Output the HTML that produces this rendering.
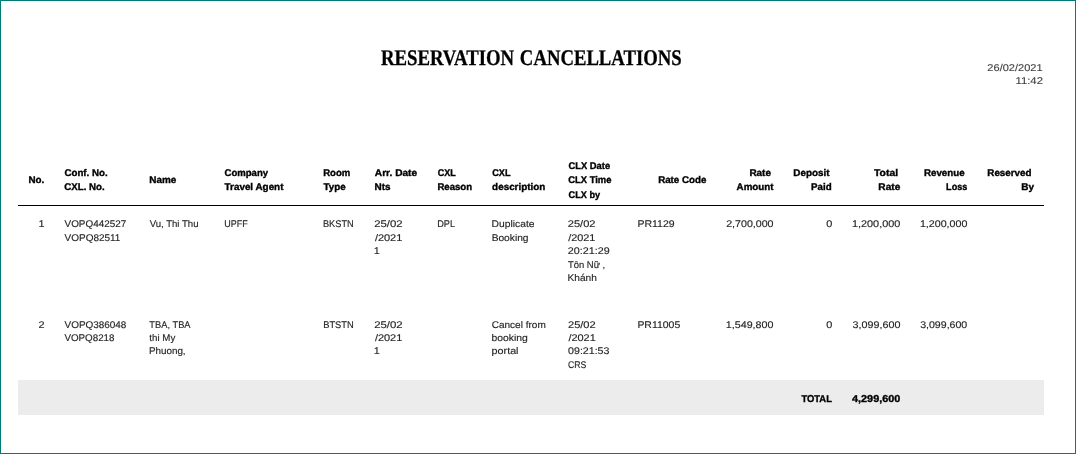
<!DOCTYPE html>
<html><head><meta charset="utf-8"><title>Reservation Cancellations</title>
<style>
html,body{margin:0;padding:0;background:#fff;}
body{width:1076px;height:454px;overflow:hidden;position:relative;text-rendering:geometricPrecision;font-family:"Liberation Sans",Arial,"Noto Sans CJK SC",sans-serif;}
.frame{position:absolute;left:0;top:0;width:1074px;height:452px;border:1px solid #007b78;}
.g{position:absolute;left:0;top:0;width:1076px;height:454px;}
span{position:absolute;white-space:nowrap;transform-origin:0 0;}
.h{font-weight:bold;color:#000;-webkit-text-stroke:0.35px #000;}
.d,.n{color:#262626;-webkit-text-stroke:0.15px #262626;}
.t{font-weight:bold;color:#000;-webkit-text-stroke:0.35px #000;}
.dt{color:#3c3c3c;-webkit-text-stroke:0.1px #3c3c3c;}
.ti{font-family:"Liberation Serif",serif;font-weight:bold;color:#000;-webkit-text-stroke:0.3px #000;}
.rule{position:absolute;left:18px;top:205px;width:1026px;height:1px;background:#000;}
.tot{position:absolute;left:18px;top:380px;width:1026px;height:35px;background:#ececec;}
</style></head><body>
<div class="frame"></div>
<div class="rule"></div>
<div class="tot"></div>
<div class="g report-header">
<span id="s0" class="ti" style="left:380px;top:45.09px;font-size:22.3px;line-height:26.76px;transform:translateX(0.90px) scaleX(0.8422);">RESERVATION</span>
<span id="s1" class="ti" style="left:519px;top:45.09px;font-size:22.3px;line-height:26.76px;transform:translateX(0.87px) scaleX(0.8391);">CANCELLATIONS</span>
<span id="s76" class="dt" style="left:987px;top:62.72px;font-size:9.8px;line-height:11.76px;transform:translateX(0.34px) scaleX(1.1280);">26/02/2021</span>
<span id="s77" class="dt" style="left:1015px;top:75.72px;font-size:9.8px;line-height:11.76px;transform:translateX(0.47px) scaleX(1.1560);">11:42</span>
</div>
<div class="g table-head">
<span id="s2" class="h" style="left:28px;top:174.82px;font-size:9.7px;line-height:11.64px;transform:translateX(0.50px) scaleX(1.0119);">No.</span>
<span id="s3" class="h" style="left:64px;top:167.92px;font-size:9.7px;line-height:11.64px;transform:translateX(0.45px) scaleX(1.0030);">Conf. No.</span>
<span id="s4" class="h" style="left:64px;top:181.82px;font-size:9.7px;line-height:11.64px;transform:translateX(0.30px) scaleX(1.0005);">CXL. No.</span>
<span id="s5" class="h" style="left:149px;top:174.82px;font-size:9.7px;line-height:11.64px;transform:translateX(0.35px) scaleX(1.0226);">Name</span>
<span id="s6" class="h" style="left:224px;top:167.92px;font-size:9.7px;line-height:11.64px;transform:translateX(0.51px) scaleX(0.9865);">Company</span>
<span id="s7" class="h" style="left:224px;top:181.82px;font-size:9.7px;line-height:11.64px;transform:translateX(0.61px) scaleX(1.0177);">Travel Agent</span>
<span id="s8" class="h" style="left:323px;top:167.92px;font-size:9.7px;line-height:11.64px;transform:translateX(0.19px) scaleX(0.9877);">Room</span>
<span id="s9" class="h" style="left:323px;top:181.82px;font-size:9.7px;line-height:11.64px;transform:translateX(0.54px) scaleX(1.0103);">Type</span>
<span id="s10" class="h" style="left:374px;top:167.92px;font-size:9.7px;line-height:11.64px;transform:translateX(0.85px) scaleX(1.0467);">Arr. Date</span>
<span id="s11" class="h" style="left:374px;top:181.82px;font-size:9.7px;line-height:11.64px;transform:translateX(0.61px) scaleX(1.0259);">Nts</span>
<span id="s12" class="h" style="left:437px;top:167.92px;font-size:9.7px;line-height:11.64px;transform:translateX(0.73px) scaleX(0.9277);">CXL</span>
<span id="s13" class="h" style="left:437px;top:181.82px;font-size:9.7px;line-height:11.64px;transform:translateX(0.38px) scaleX(0.9889);">Reason</span>
<span id="s14" class="h" style="left:492px;top:167.92px;font-size:9.7px;line-height:11.64px;transform:translateX(0.16px) scaleX(0.9461);">CXL</span>
<span id="s15" class="h" style="left:492px;top:181.82px;font-size:9.7px;line-height:11.64px;transform:translateX(0.12px) scaleX(1.0189);">description</span>
<span id="s16" class="h" style="left:568px;top:161.42px;font-size:9.7px;line-height:11.64px;transform:translateX(0.56px) scaleX(0.9648);">CLX Date</span>
<span id="s17" class="h" style="left:568px;top:175.42px;font-size:9.7px;line-height:11.64px;transform:translateX(0.19px) scaleX(0.9719);">CLX Time</span>
<span id="s18" class="h" style="left:568px;top:190.22px;font-size:9.7px;line-height:11.64px;transform:translateX(0.58px) scaleX(0.9446);">CLX by</span>
<span id="s19" class="h" style="left:658px;top:174.82px;font-size:9.7px;line-height:11.64px;transform:translateX(0.15px) scaleX(1.0072);">Rate Code</span>
<span id="s20" class="h" style="left:749px;top:167.92px;font-size:9.7px;line-height:11.64px;transform:translateX(0.39px) scaleX(1.0276);">Rate</span>
<span id="s21" class="h" style="left:736px;top:181.82px;font-size:9.7px;line-height:11.64px;transform:translateX(0.60px) scaleX(1.0081);">Amount</span>
<span id="s22" class="h" style="left:793px;top:167.92px;font-size:9.7px;line-height:11.64px;transform:translateX(0.27px) scaleX(1.0185);">Deposit</span>
<span id="s23" class="h" style="left:811px;top:181.82px;font-size:9.7px;line-height:11.64px;transform:translateX(0.11px) scaleX(1.0067);">Paid</span>
<span id="s24" class="h" style="left:874px;top:167.92px;font-size:9.7px;line-height:11.64px;transform:translateX(0.00px) scaleX(1.0726);">Total</span>
<span id="s25" class="h" style="left:878px;top:181.82px;font-size:9.7px;line-height:11.64px;transform:translateX(0.34px) scaleX(1.0436);">Rate</span>
<span id="s26" class="h" style="left:923px;top:167.92px;font-size:9.7px;line-height:11.64px;transform:translateX(0.99px) scaleX(1.0054);">Revenue</span>
<span id="s27" class="h" style="left:946px;top:181.82px;font-size:9.7px;line-height:11.64px;transform:translateX(0.10px) scaleX(0.9348);">Loss</span>
<span id="s28" class="h" style="left:987px;top:167.92px;font-size:9.7px;line-height:11.64px;transform:translateX(0.30px) scaleX(1.0123);">Reserved</span>
<span id="s29" class="h" style="left:1021px;top:181.82px;font-size:9.7px;line-height:11.64px;transform:translateX(0.20px) scaleX(1.0317);">By</span>
</div>
<div class="g row-1">
<span id="s30" class="d" style="left:38px;top:218.82px;font-size:9.7px;line-height:11.64px;transform:translateX(0.61px) scaleX(1.1200);">1</span>
<span id="s31" class="d" style="left:64px;top:218.82px;font-size:9.7px;line-height:11.64px;transform:translateX(0.53px) scaleX(1.0217);">VOPQ442527</span>
<span id="s32" class="d" style="left:64px;top:232.82px;font-size:9.7px;line-height:11.64px;transform:translateX(0.60px) scaleX(1.0285);">VOPQ82511</span>
<span id="s33" class="d" style="left:149px;top:218.82px;font-size:9.7px;line-height:11.64px;transform:translateX(0.63px) scaleX(0.9902);">Vu, Thi Thu</span>
<span id="s34" class="d" style="left:224px;top:218.82px;font-size:9.7px;line-height:11.64px;transform:translateX(0.30px) scaleX(0.9253);">UPFF</span>
<span id="s35" class="d" style="left:322px;top:218.82px;font-size:9.7px;line-height:11.64px;transform:translateX(0.97px) scaleX(0.9508);">BKSTN</span>
<span id="s36" class="d" style="left:374px;top:218.82px;font-size:9.7px;line-height:11.64px;transform:translateX(0.24px) scaleX(1.1703);">25/02</span>
<span id="s37" class="d" style="left:374px;top:232.82px;font-size:9.7px;line-height:11.64px;transform:translateX(0.88px) scaleX(1.1320);">/2021</span>
<span id="s38" class="d" style="left:373px;top:245.82px;font-size:9.7px;line-height:11.64px;transform:translateX(0.70px) scaleX(1.1200);">1</span>
<span id="s39" class="d" style="left:437px;top:218.82px;font-size:9.7px;line-height:11.64px;transform:translateX(0.15px) scaleX(0.9492);">DPL</span>
<span id="s40" class="d" style="left:491px;top:218.82px;font-size:9.7px;line-height:11.64px;transform:translateX(0.58px) scaleX(1.0619);">Duplicate</span>
<span id="s41" class="d" style="left:491px;top:232.82px;font-size:9.7px;line-height:11.64px;transform:translateX(0.63px) scaleX(1.0528);">Booking</span>
<span id="s42" class="d" style="left:567px;top:218.82px;font-size:9.7px;line-height:11.64px;transform:translateX(0.82px) scaleX(1.1389);">25/02</span>
<span id="s43" class="d" style="left:568px;top:232.82px;font-size:9.7px;line-height:11.64px;transform:translateX(0.20px) scaleX(1.1216);">/2021</span>
<span id="s44" class="d" style="left:567px;top:245.82px;font-size:9.7px;line-height:11.64px;transform:translateX(0.81px) scaleX(1.1102);">20:21:29</span>
<span id="s45" class="d" style="left:567px;top:259.82px;font-size:9.7px;line-height:11.64px;transform:translateX(0.98px) scaleX(0.9731);">Tôn Nữ ,</span>
<span id="s46" class="d" style="left:567px;top:272.82px;font-size:9.7px;line-height:11.64px;transform:translateX(0.55px) scaleX(1.0448);">Khánh</span>
<span id="s47" class="d" style="left:637px;top:218.82px;font-size:9.7px;line-height:11.64px;transform:translateX(0.40px) scaleX(1.0853);">PR1129</span>
<span id="s48" class="n" style="left:726px;top:218.82px;font-size:9.7px;line-height:11.64px;transform:translateX(0.18px) scaleX(1.0981);">2,700,000</span>
<span id="s49" class="n" style="left:826px;top:218.82px;font-size:9.7px;line-height:11.64px;transform:translateX(0.25px) scaleX(1.1200);">0</span>
<span id="s50" class="n" style="left:851px;top:218.82px;font-size:9.7px;line-height:11.64px;transform:translateX(0.99px) scaleX(1.1204);">1,200,000</span>
<span id="s51" class="n" style="left:919px;top:218.82px;font-size:9.7px;line-height:11.64px;transform:translateX(0.93px) scaleX(1.1011);">1,200,000</span>
</div>
<div class="g row-2">
<span id="s52" class="d" style="left:38px;top:319.82px;font-size:9.7px;line-height:11.64px;transform:translateX(0.38px) scaleX(1.1200);">2</span>
<span id="s53" class="d" style="left:64px;top:319.82px;font-size:9.7px;line-height:11.64px;transform:translateX(0.55px) scaleX(1.0251);">VOPQ386048</span>
<span id="s54" class="d" style="left:64px;top:332.82px;font-size:9.7px;line-height:11.64px;transform:translateX(0.43px) scaleX(1.0096);">VOPQ8218</span>
<span id="s55" class="d" style="left:149px;top:319.82px;font-size:9.7px;line-height:11.64px;transform:translateX(0.36px) scaleX(0.9604);">TBA, TBA</span>
<span id="s56" class="d" style="left:149px;top:332.82px;font-size:9.7px;line-height:11.64px;transform:translateX(0.35px) scaleX(1.0018);">thi My</span>
<span id="s57" class="d" style="left:148px;top:345.82px;font-size:9.7px;line-height:11.64px;transform:translateX(0.92px) scaleX(1.0166);">Phuong,</span>
<span id="s58" class="d" style="left:323px;top:319.82px;font-size:9.7px;line-height:11.64px;transform:translateX(0.18px) scaleX(0.9647);">BTSTN</span>
<span id="s59" class="d" style="left:374px;top:319.82px;font-size:9.7px;line-height:11.64px;transform:translateX(0.24px) scaleX(1.1703);">25/02</span>
<span id="s60" class="d" style="left:374px;top:332.82px;font-size:9.7px;line-height:11.64px;transform:translateX(0.88px) scaleX(1.1320);">/2021</span>
<span id="s61" class="d" style="left:373px;top:345.82px;font-size:9.7px;line-height:11.64px;transform:translateX(0.70px) scaleX(1.1200);">1</span>
<span id="s62" class="d" style="left:491px;top:319.82px;font-size:9.7px;line-height:11.64px;transform:translateX(0.70px) scaleX(1.0348);">Cancel from</span>
<span id="s63" class="d" style="left:491px;top:332.82px;font-size:9.7px;line-height:11.64px;transform:translateX(0.52px) scaleX(1.0698);">booking</span>
<span id="s64" class="d" style="left:491px;top:345.82px;font-size:9.7px;line-height:11.64px;transform:translateX(0.60px) scaleX(1.1101);">portal</span>
<span id="s65" class="d" style="left:567px;top:319.82px;font-size:9.7px;line-height:11.64px;transform:translateX(0.98px) scaleX(1.1422);">25/02</span>
<span id="s66" class="d" style="left:568px;top:332.82px;font-size:9.7px;line-height:11.64px;transform:translateX(0.44px) scaleX(1.1271);">/2021</span>
<span id="s67" class="d" style="left:568px;top:345.82px;font-size:9.7px;line-height:11.64px;transform:translateX(0.07px) scaleX(1.0968);">09:21:53</span>
<span id="s68" class="d" style="left:568px;top:359.82px;font-size:9.7px;line-height:11.64px;transform:translateX(0.06px) scaleX(0.8955);">CRS</span>
<span id="s69" class="d" style="left:637px;top:319.82px;font-size:9.7px;line-height:11.64px;transform:translateX(0.40px) scaleX(1.0791);">PR11005</span>
<span id="s70" class="n" style="left:725px;top:319.82px;font-size:9.7px;line-height:11.64px;transform:translateX(0.87px) scaleX(1.1031);">1,549,800</span>
<span id="s71" class="n" style="left:826px;top:319.82px;font-size:9.7px;line-height:11.64px;transform:translateX(0.25px) scaleX(1.1200);">0</span>
<span id="s72" class="n" style="left:852px;top:319.82px;font-size:9.7px;line-height:11.64px;transform:translateX(0.56px) scaleX(1.1093);">3,099,600</span>
<span id="s73" class="n" style="left:920px;top:319.82px;font-size:9.7px;line-height:11.64px;transform:translateX(0.16px) scaleX(1.0922);">3,099,600</span>
</div>
<div class="g table-total">
<span id="s74" class="t" style="left:801px;top:393.54px;font-size:10.0px;line-height:12.0px;transform:translateX(0.43px) scaleX(0.9400);">TOTAL</span>
<span id="s75" class="t" style="left:852px;top:393.54px;font-size:10.0px;line-height:12.0px;transform:translateX(0.01px) scaleX(1.0850);">4,299,600</span>
</div>
</body></html>
